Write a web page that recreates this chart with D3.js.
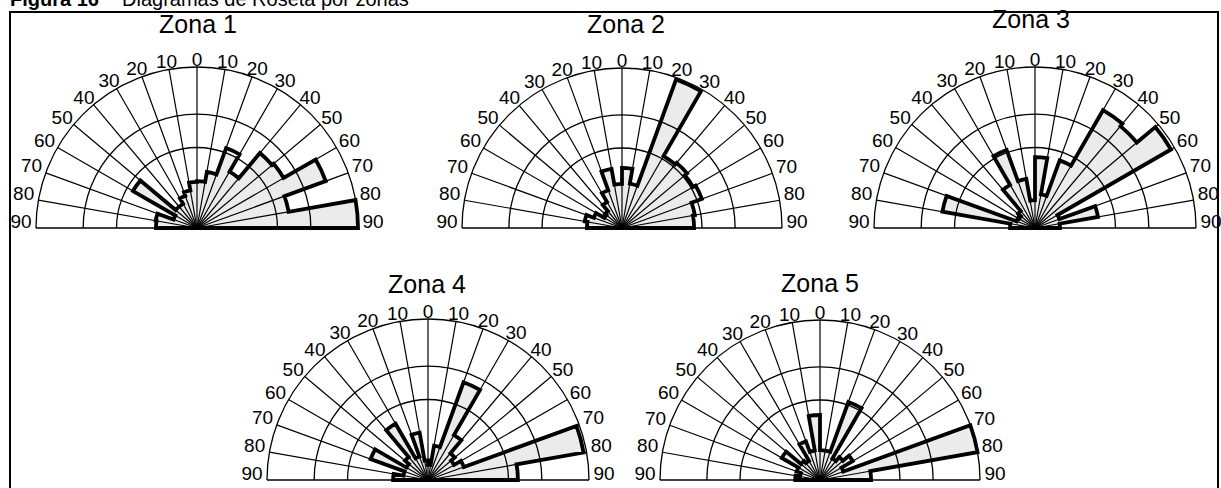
<!DOCTYPE html>
<html>
<head>
<meta charset="utf-8">
<script src="https://cdn.jsdelivr.net/npm/d3@7"></script>
<style>
  html, body { margin: 0; padding: 0; background: #fff; }
  svg { display: block; font-family: "Liberation Sans", Arial, sans-serif; }
</style>
</head>
<body>
<script>
// ---- data ----
const zoneNames = ["Zona 1", "Zona 2", "Zona 3", "Zona 4", "Zona 5"];
// bin start angles (degrees from north, clockwise), 10° bins from -90 to 90
const binStarts = d3.range(-90, 90, 10);
// spoke angles and their labels
const spokeAngles = d3.range(-90, 91, 10);
const tickLabels = ["90","80","70","60","50","40","30","20","10","0","10","20","30","40","50","60","70","80","90"];
// relative frequency (% of max, equal-area scale) per bin, from -90..-80 to 80..90
const zona1 = [6.5, 6.8, 2.4, 21.1, 3.0, 3.0, 4.5, 5.6, 8.2, 8.5, 12.5, 27.9, 16.3, 37.0, 38.6, 72.4, 33.4, 100];
const zona2 = [4.8, 5.6, 3.5, 1.6, 1.9, 3.5, 6.3, 14.1, 7.6, 14.1, 7.9, 97.5, 26.9, 28.2, 26.3, 28.2, 21.4, 20.3];
const zona3 = [2.4, 34.1, 1.5, 1.3, 1.9, 9.6, 26.6, 9.6, 3.0, 19.4, 4.5, 20.0, 71.4, 68.2, 95.1, 2.6, 15.8, 2.4];
const zona4 = [4.7, 2.4, 14.4, 2.4, 3.5, 16.3, 2.4, 8.9, 1.5, 0.9, 4.7, 41.7, 10.4, 4.7, 3.5, 5.6, 96.3, 31.2];
const zona5 = [2.4, 1.6, 2.4, 7.6, 2.4, 1.9, 6.6, 3.5, 16.5, 3.5, 3.5, 26.9, 2.4, 3.5, 5.6, 2.4, 100, 10.2];
const zones = [zona1, zona2, zona3, zona4, zona5];
const ringValues = [25, 50, 100];

// ---- layout ----
const layout = [
  {cx: 197,   cy: 228, R: 161, tx: 198,  ty: 33},
  {cx: 622,   cy: 228, R: 160, tx: 626,  ty: 33},
  {cx: 1035,  cy: 228, R: 161, tx: 1031, ty: 28},
  {cx: 428,   cy: 480, R: 161, tx: 427,  ty: 293},
  {cx: 820,   cy: 480, R: 160, tx: 820,  ty: 292}
];

const svg = d3.select("body").append("svg").attr("width", 1221).attr("height", 488);

// frame
svg.append("rect").attr("x", 10).attr("y", 12).attr("width", 1208).attr("height", 520)
  .attr("fill", "none").attr("stroke", "#000").attr("stroke-width", 2);

// caption (clipped at top)
svg.append("text").attr("x", 10).attr("y", 6).attr("font-size", 20).attr("font-weight", "bold")
  .text("Figura 16");
svg.append("text").attr("x", 122).attr("y", 6).attr("font-size", 20)
  .text("Diagramas de Roseta por zonas");

const toRad = d => d * Math.PI / 180;

layout.forEach((L, i) => {
  const g = svg.append("g").attr("transform", `translate(${L.cx},${L.cy})`);
  const r = d3.scaleSqrt().domain([0, 100]).range([0, L.R]);
  const vals = zones[i];

  // rose path (union outline)
  const p = d3.path();
  p.moveTo(0, 0);
  binStarts.forEach((b, j) => {
    const rr = r(vals[j]);
    const a0 = toRad(b - 90), a1 = toRad(b + 10 - 90);
    p.lineTo(rr * Math.cos(a0), rr * Math.sin(a0));
    if (rr > 0) p.arc(0, 0, rr, a0, a1, false);
  });
  p.closePath();
  const rosePath = p.toString();

  g.append("path").attr("d", rosePath).attr("fill", "#ebebeb").attr("stroke", "none");

  // grid rings
  ringValues.forEach(v => {
    const q = d3.path();
    q.arc(0, 0, r(v), -Math.PI, 0, false);
    g.append("path").attr("d", q.toString()).attr("fill", "none")
      .attr("stroke", "#000").attr("stroke-width", 1.3);
  });
  // spokes
  spokeAngles.filter(a => Math.abs(a) < 90).forEach(a => {
    g.append("line").attr("x1", 0).attr("y1", 0)
      .attr("x2", L.R * Math.sin(toRad(a))).attr("y2", -L.R * Math.cos(toRad(a)))
      .attr("stroke", "#000").attr("stroke-width", 1.2);
  });
  // baseline
  g.append("line").attr("x1", -L.R).attr("y1", 0).attr("x2", L.R).attr("y2", 0)
    .attr("stroke", "#000").attr("stroke-width", 1.5);

  // rose outline
  g.append("path").attr("d", rosePath).attr("fill", "none")
    .attr("stroke", "#000").attr("stroke-width", 3.8).attr("stroke-linejoin", "miter");

  // labels
  spokeAngles.forEach((a, k) => {
    g.append("text")
      .attr("x", (L.R + 15) * Math.sin(toRad(a)))
      .attr("y", -(L.R + 1.5) * Math.cos(toRad(a)))
      .attr("text-anchor", "middle").attr("font-size", 19).attr("fill", "#000")
      .text(tickLabels[k]);
  });

  // title
  svg.append("text").attr("x", L.tx).attr("y", L.ty).attr("text-anchor", "middle")
    .attr("font-size", 25).attr("fill", "#000").text(zoneNames[i]);
});
</script>
</body>
</html>
